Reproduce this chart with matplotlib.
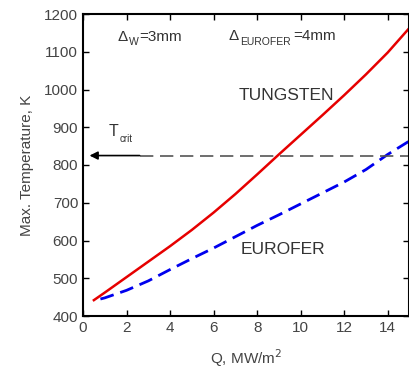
import matplotlib
matplotlib.use("Agg")
import matplotlib.pyplot as plt

plt.rcParams['font.family'] = ['Liberation Sans', 'DejaVu Sans']

q_w = [0.5, 1, 2, 3, 4, 5, 6, 7, 8, 9, 10, 11, 12, 13, 14, 14.95]
t_w = [442, 462, 503, 544, 585, 628, 674, 723, 775, 828, 880, 932, 985, 1040, 1098, 1160]

q_e = [0.8, 1, 2, 3, 4, 5, 6, 7, 8, 9, 10, 11, 12, 13, 14, 14.95]
t_e = [445, 448, 468, 493, 523, 552, 580, 610, 640, 668, 697, 726, 755, 788, 828, 862]

t_crit = 825
xticks = [0, 2, 4, 6, 8, 10, 12, 14]
yticks = [400, 500, 600, 700, 800, 900, 1000, 1100, 1200]

fig = plt.figure(figsize=(4.10, 3.71), dpi=100)
ax = fig.add_axes([83/410, 55/371, 326.5/410, 302/371])

ax.plot(q_w, t_w, color='#e60000', lw=1.8)
ax.plot(q_e, t_e, color='#0000ee', lw=2.0, dashes=(5, 2.5))

ax.plot([2.6, 15], [t_crit, t_crit], color='#555555', lw=1.2, dashes=(8, 4))
ax.annotate('', xy=(0.3, t_crit), xytext=(2.6, t_crit),
            arrowprops=dict(arrowstyle='-|>', color='black', lw=1.2,
                            mutation_scale=12, shrinkA=0, shrinkB=0))

ax.set_xlim(0, 15)
ax.set_ylim(400, 1200)
ax.set_xticks(xticks)
ax.set_yticks(yticks)
ax.tick_params(direction='in', length=4, width=1, top=True, right=True,
               labelsize=11, labelcolor='#444444')
for s in ax.spines.values():
    s.set_linewidth(1.5)

ax.set_xlabel('Q, MW/m$^2$', fontsize=11, color='#444444', labelpad=9)
ax.set_ylabel('Max. Temperature, K', fontsize=11, color='#444444', labelpad=7)

tc = '#333333'
sub = dict(fontsize=7.5, color=tc)
ax.text(1.6, 1140, '\u0394', fontsize=11, color=tc, va='center')
ax.text(2.1, 1126, 'W', **sub, va='center')
ax.text(2.6, 1140, '=3mm', fontsize=11, color=tc, va='center')
ax.text(6.7, 1143, '\u0394', fontsize=11, color=tc, va='center')
ax.text(7.2, 1127, 'EUROFER', **sub, va='center')
ax.text(9.65, 1143, '=4mm', fontsize=11, color=tc, va='center')
ax.text(9.35, 985, 'TUNGSTEN', fontsize=12.5, color=tc, ha='center', va='center')
ax.text(9.2, 575, 'EUROFER', fontsize=12.5, color=tc, ha='center', va='center')
ax.text(1.2, 888, 'T', fontsize=11.5, color=tc, va='center')
ax.text(1.7, 868, 'crit', fontsize=7, color=tc, va='center')

fig.savefig('out.png', dpi=100)
